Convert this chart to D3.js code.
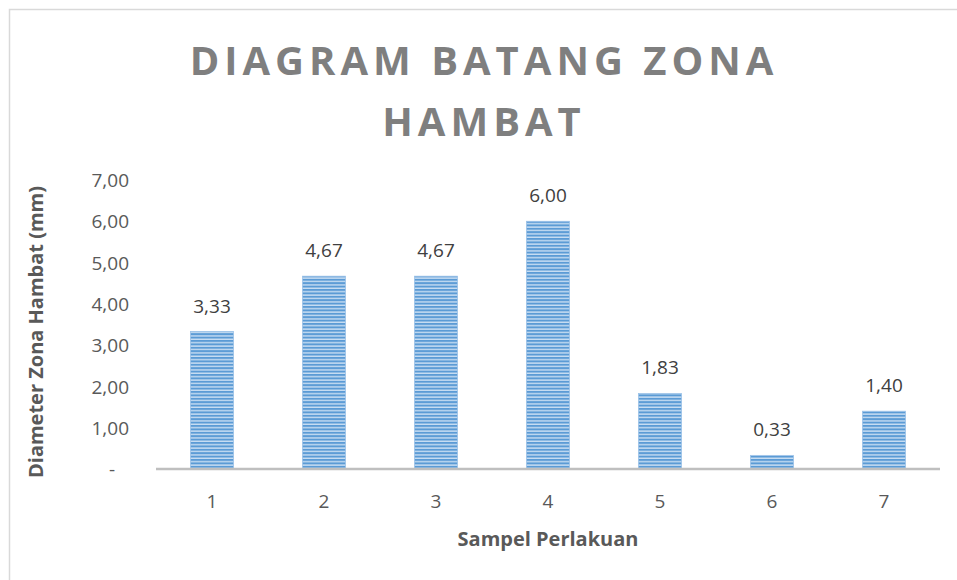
<!DOCTYPE html>
<html><head><meta charset="utf-8">
<script src="https://cdn.jsdelivr.net/npm/d3@7"></script>
<style>body{margin:0;background:#fff}svg{display:block}</style>
</head><body>
<script>
const categories = ["1","2","3","4","5","6","7"];
const values = [3.33, 4.67, 4.67, 6.00, 1.83, 0.33, 1.40];
const yTicks = [0,1,2,3,4,5,6,7];
const titleLines = ["DIAGRAM BATANG ZONA","HAMBAT"];
const yTitle = "Diameter Zona Hambat (mm)";
const xTitle = "Sampel Perlakuan";

const W = 957, H = 580;
const svg = d3.select("body").append("svg").attr("width", W).attr("height", H);
const font = "'Open Sans', sans-serif";

svg.append("rect").attr("x", 9.5).attr("y", 9.5).attr("width", W + 20).attr("height", H + 20)
  .attr("fill", "#fff").attr("stroke", "#d9d9d9").attr("stroke-width", 1.5);

const defs = svg.append("defs");
const pat = defs.append("pattern").attr("id", "stripes").attr("patternUnits", "userSpaceOnUse")
  .attr("width", 10).attr("height", 3.4);
pat.append("rect").attr("width", 10).attr("height", 3.4).attr("fill", "#c9def3");
pat.append("rect").attr("width", 10).attr("height", 2).attr("fill", "#5b9bd5");

const x = d3.scaleBand().domain(categories).range([156, 940]).paddingInner(0.615).paddingOuter(0.3075);
const y = d3.scaleLinear().domain([0, 7]).range([469, 180]);

// title
svg.append("g").selectAll("text").data(titleLines).join("text")
  .attr("x", 484).attr("y", (d, i) => 75 + i * 61)
  .attr("text-anchor", "middle").attr("font-family", font).attr("font-weight", 700)
  .attr("font-size", 40).attr("letter-spacing", 5).attr("fill", "#7f7f7f").text(d => d);

// bars
svg.append("g").selectAll("rect").data(values).join("rect")
  .attr("x", (d, i) => x(categories[i])).attr("width", x.bandwidth())
  .attr("y", d => y(d)).attr("height", d => y(0) - y(d))
  .attr("fill", "url(#stripes)")
  .attr("stroke", "#9cc2e8").attr("stroke-width", 0.8);

// data labels
svg.append("g").selectAll("text").data(values).join("text")
  .attr("x", (d, i) => x(categories[i]) + x.bandwidth() / 2)
  .attr("y", d => y(d) - 19).attr("text-anchor", "middle")
  .attr("font-family", font).attr("font-size", 19).attr("fill", "#404040")
  .text(d => d.toFixed(2).replace(".", ","));

// y axis labels
const yAxis = d3.axisLeft(y).tickValues(yTicks).tickSize(0).tickPadding(0)
  .tickFormat(d => d === 0 ? "-" : d.toFixed(2).replace(".", ","));
const gy = svg.append("g").attr("transform", "translate(129,0)").call(yAxis);
gy.select(".domain").remove();
gy.selectAll("text").attr("font-family", font).attr("font-size", 19).attr("fill", "#595959")
  .attr("dy", "0.35em").attr("dx", d => d === 0 ? -14 : 0);

// x axis
const xAxis = d3.axisBottom(x).tickSize(0).tickPadding(0);
const gx = svg.append("g").attr("transform", "translate(0,469)").call(xAxis);
gx.select(".domain").remove();
gx.selectAll("text").attr("font-family", font).attr("font-size", 19).attr("fill", "#595959")
  .attr("dy", 0).attr("y", 39);
svg.append("line").attr("x1", 156).attr("x2", 940).attr("y1", 469).attr("y2", 469)
  .attr("stroke", "#bfbfbf").attr("stroke-width", 2.5);

// axis titles
svg.append("text").attr("transform", "translate(43,332) rotate(-90)").attr("text-anchor", "middle")
  .attr("font-family", font).attr("font-weight", 700).attr("font-size", 20).attr("fill", "#595959").text(yTitle);
svg.append("text").attr("x", 548).attr("y", 546).attr("text-anchor", "middle")
  .attr("font-family", font).attr("font-weight", 700).attr("font-size", 20).attr("fill", "#595959").text(xTitle);
</script>
</body></html>
